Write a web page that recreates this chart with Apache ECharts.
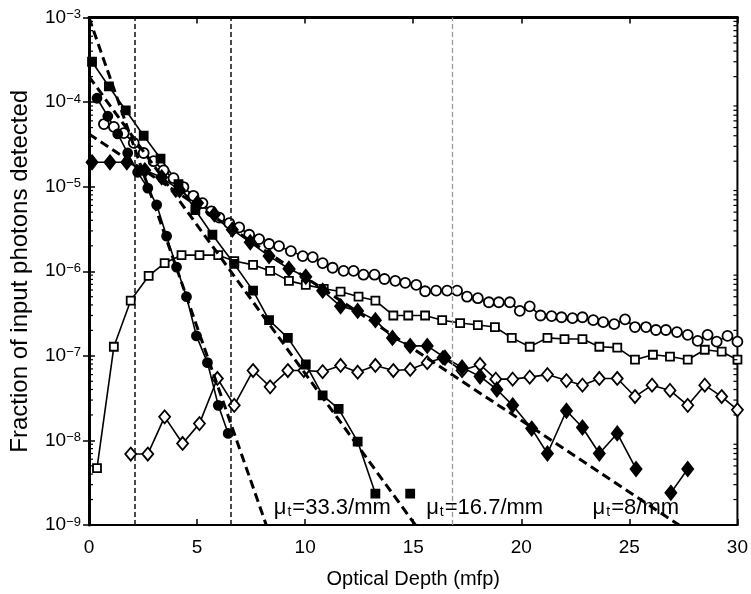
<!DOCTYPE html>
<html>
<head>
<meta charset="utf-8">
<script src="https://cdn.jsdelivr.net/npm/echarts@6/dist/echarts.min.js"></script>
<style>html,body{margin:0;padding:0;background:#fff}#c{width:751px;height:594px}</style>
</head>
<body>
<div id="c"></div>
<script>
// ---------- data ----------
const xTicks = [0, 5, 10, 15, 20, 25, 30];
const yExpTicks = [-9, -8, -7, -6, -5, -4, -3];
const minorMantissas = [2, 3, 4, 5, 6, 7, 8, 9];

// open circles
const circlesX = [0.69,1.15,1.61,2.07,2.53,2.99,3.45,3.91,4.37,4.83,5.25,5.66,6.03,6.49,6.95,7.41,7.87,8.33,8.79,9.34,9.89,10.35,10.81,11.27,11.78,12.24,12.70,13.21,13.67,14.17,14.63,15.14,15.55,16.06,16.57,17.03,17.49,17.99,18.50,18.96,19.47,19.93,20.39,20.89,21.40,21.86,22.37,22.83,23.33,23.79,24.30,24.80,25.26,25.77,26.23,26.69,27.20,27.70,28.16,28.62,29.04,29.54,30.0];
const circlesY = [5.5e-5,5.1e-5,4.3e-5,3.3e-5,2.5e-5,2.0e-5,1.56e-5,1.26e-5,9.9e-6,7.8e-6,6.4e-6,5.1e-6,4.3e-6,3.7e-6,3.3e-6,2.7e-6,2.4e-6,2.1e-6,1.98e-6,1.73e-6,1.51e-6,1.47e-6,1.25e-6,1.10e-6,1.01e-6,1.01e-6,9.1e-7,9.1e-7,8.1e-7,7.7e-7,7.3e-7,6.9e-7,5.8e-7,5.9e-7,5.9e-7,5.9e-7,5.0e-7,4.8e-7,4.3e-7,4.3e-7,4.3e-7,3.4e-7,3.85e-7,3.0e-7,2.95e-7,2.86e-7,2.79e-7,2.86e-7,2.64e-7,2.5e-7,2.37e-7,2.7e-7,2.19e-7,2.19e-7,2.02e-7,2.02e-7,1.91e-7,1.77e-7,1.50e-7,1.77e-7,1.47e-7,1.72e-7,1.47e-7];

// open squares
const squaresX = [0.37,1.15,1.93,2.76,3.50,4.28,5.11,5.98,6.72,7.59,8.38,9.25,10.03,10.86,11.64,12.47,13.25,14.08,14.77,15.55,16.34,17.17,17.99,18.78,19.56,20.39,21.21,22.0,22.83,23.61,24.44,25.26,26.09,26.88,27.70,28.49,29.27,30.0];
const squaresY = [4.7e-9,1.28e-7,4.5e-7,8.8e-7,1.25e-6,1.55e-6,1.55e-6,1.55e-6,1.32e-6,1.19e-6,1.01e-6,7.7e-7,6.9e-7,6.2e-7,5.75e-7,5.0e-7,4.5e-7,3.0e-7,3.0e-7,3.0e-7,2.64e-7,2.44e-7,2.31e-7,2.19e-7,1.63e-7,1.28e-7,1.63e-7,1.58e-7,1.58e-7,1.28e-7,1.25e-7,9.0e-8,1.03e-7,9.8e-8,9.0e-8,1.18e-7,1.12e-7,9.0e-8];

// open diamonds
const diamondsX = [1.93,2.72,3.50,4.33,5.11,5.94,6.72,7.59,8.38,9.20,9.94,10.81,11.64,12.43,13.25,14.08,14.86,15.65,16.38,17.26,18.09,18.82,19.60,20.39,21.21,22.09,22.83,23.61,24.44,25.26,26.05,26.88,27.70,28.49,29.27,30.0];
const diamondsY = [6.9e-9,6.9e-9,1.9e-8,9.2e-9,1.58e-8,5.4e-8,2.6e-8,6.7e-8,4.3e-8,6.7e-8,6.7e-8,6.5e-8,7.7e-8,6.4e-8,7.7e-8,6.7e-8,6.9e-8,8.3e-8,9.5e-8,6.7e-8,7.9e-8,5.3e-8,5.3e-8,5.6e-8,6.0e-8,5.1e-8,4.5e-8,5.4e-8,5.4e-8,3.3e-8,4.5e-8,3.9e-8,2.6e-8,4.5e-8,3.3e-8,2.3e-8];

// filled diamonds ('-' = gap)
const fDiamondsX = [0.14,0.97,1.75,2.58,3.36,4.19,5.02,5.80,6.63,7.46,8.33,9.25,10.03,10.81,11.64,12.43,13.25,14.04,14.86,15.65,16.47,17.26,18.09,18.87,19.60,20.48,21.21,22.09,22.83,23.61,24.44,25.31,26.1,26.92,27.70];
const fDiamondsY = [1.94e-5,1.94e-5,1.94e-5,1.56e-5,1.29e-5,9.1e-6,6.4e-6,4.7e-6,3.1e-6,2.2e-6,1.51e-6,1.07e-6,8.6e-7,5.9e-7,3.85e-7,3.4e-7,2.64e-7,1.63e-7,1.31e-7,1.31e-7,9.5e-8,7.3e-8,5.7e-8,4.0e-8,2.6e-8,1.38e-8,7.0e-9,2.24e-8,1.42e-8,7.0e-9,1.21e-8,4.6e-9,'-',2.4e-9,4.6e-9];

// filled squares
const fSquaresX = [0.14,0.92,1.70,2.53,3.31,4.14,4.92,5.71,6.72,7.59,8.33,9.20,10.03,10.81,11.55,12.43,13.25,14.0,14.86];
const fSquaresY = [3.0e-4,1.53e-4,8.0e-5,4.0e-5,2.15e-5,1.07e-5,5.3e-6,2.7e-6,1.22e-6,5.9e-7,2.64e-7,1.63e-7,7.9e-8,3.4e-8,2.36e-8,9.7e-9,2.35e-9,'-',2.35e-9];

// filled circles
const fCirclesX = [0.37,0.87,1.33,1.79,2.25,2.72,3.13,3.59,4.05,4.51,4.97,5.48,5.98,6.44];
const fCirclesY = [1.11e-4,6.8e-5,4.2e-5,2.5e-5,1.48e-5,9.6e-6,6.1e-6,2.6e-6,1.12e-6,5.0e-7,1.72e-7,8.3e-8,2.6e-8,1.21e-8];

// dashed exponential fits
const fit33X = [0, 8.2],  fit33Y = [1e-3, 1e-9];
const fit16X = [0, 15.1], fit16Y = [2e-4, 1e-9];
const fit8X  = [0, 27.3], fit8Y  = [4.2e-5, 1e-9];

// vertical reference lines
const vLinesBlack = [2.12, 6.58];
const vLinesGrey = [16.8];

// annotations
const annotX = [8.55, 15.6, 23.3];
const annotY = [1.6e-9, 1.6e-9, 1.6e-9];
const annotText = ['=33.3/mm', '=16.7/mm', '=8/mm'];

// ---------- build ----------
const zip = (xs, ys) => xs.map((x, i) => [x, ys[i]]);
const minorValues = [];
yExpTicks.slice(0, -1).forEach(e => minorMantissas.forEach(m => minorValues.push([0, m * Math.pow(10, e)])));

const FONT = 'Liberation Sans, Arial, Helvetica, sans-serif';
const black = '#000';

function dataSeries(name, xs, ys, symbol, size, filled) {
  return {
    name, type: 'line', data: zip(xs, ys), symbol, symbolSize: size,
    showAllSymbol: true, connectNulls: false, clip: false,
    lineStyle: { color: black, width: 1.6 },
    itemStyle: { color: filled ? black : '#fff', borderColor: black, borderWidth: 1.8 },
    emphasis: { disabled: true }, z: 3
  };
}
function fitSeries(xs, ys) {
  return {
    type: 'line', data: zip(xs, ys), symbol: 'none',
    lineStyle: { color: black, width: 3, type: [9, 5] },
    emphasis: { disabled: true }, z: 4
  };
}

const option = {
  animation: false,
  backgroundColor: '#fff',
  textStyle: { fontFamily: FONT },
  grid: { left: 87, right: 12, top: 10, bottom: 69, show: true, borderColor: black, borderWidth: 2, backgroundColor: 'transparent' },
  xAxis: [{
    type: 'value', min: 0, max: 30, interval: 5, position: 'bottom',
    axisLine: { show: true, lineStyle: { color: black, width: 2 } },
    axisTick: { show: true, inside: true, length: 6, lineStyle: { color: black, width: 1.5 } },
    axisLabel: { color: black, fontSize: 19, margin: 13, fontFamily: FONT },
    splitLine: { show: false },
    name: 'Optical Depth (mfp)', nameLocation: 'middle', nameGap: 44,
    nameTextStyle: { color: black, fontSize: 20, fontFamily: FONT }
  }, {
    type: 'value', min: 0, max: 30, interval: 5, position: 'top',
    axisLine: { show: true, lineStyle: { color: black, width: 3 } },
    axisTick: { show: true, inside: true, length: 6, lineStyle: { color: black, width: 1.5 } },
    axisLabel: { show: false }, splitLine: { show: false }
  }],
  yAxis: [{
    type: 'log', logBase: 10, min: 1e-9, max: 1e-3, position: 'left',
    axisLine: { show: true, lineStyle: { color: black, width: 3 } },
    axisTick: { show: true, inside: true, length: 6, lineStyle: { color: black, width: 1.5 } },
    axisLabel: {
      color: black, margin: 8, fontFamily: FONT,
      formatter: v => '{b|10}{s|\u2212' + Math.abs(Math.round(Math.log10(v))) + '}',
      rich: {
        b: { fontSize: 19, lineHeight: 19, padding: [8, 0, 0, 0], verticalAlign: 'bottom', color: black, fontFamily: FONT },
        s: { fontSize: 13, lineHeight: 13, verticalAlign: 'top', color: black, fontFamily: FONT }
      }
    },
    splitLine: { show: false },
    name: 'Fraction of input photons detected', nameLocation: 'middle', nameGap: 57, nameRotate: 90,
    nameTextStyle: { color: black, fontSize: 24, fontFamily: FONT }
  }, {
    type: 'log', logBase: 10, min: 1e-9, max: 1e-3, position: 'right',
    axisLine: { show: true, lineStyle: { color: black, width: 2 } },
    axisTick: { show: true, inside: true, length: 6, lineStyle: { color: black, width: 1.5 } },
    axisLabel: { show: false }, splitLine: { show: false }
  }],
  series: [
    {
      type: 'custom', data: minorValues, clip: false, silent: true, z: 5,
      renderItem: (params, api) => {
        const v = api.value(1);
        const l = api.coord([0, v]);
        const r = api.coord([30, v]);
        return { type: 'group', children: [
          { type: 'line', shape: { x1: l[0], y1: l[1], x2: l[0] + 4, y2: l[1] }, style: { stroke: black, lineWidth: 1.2 } },
          { type: 'line', shape: { x1: r[0] - 4, y1: r[1], x2: r[0], y2: r[1] }, style: { stroke: black, lineWidth: 1.2 } }
        ] };
      }
    },
    {
      type: 'line', data: [], symbol: 'none',
      markLine: {
        silent: true, symbol: ['none', 'none'], label: { show: false },
        data: vLinesBlack.map(x => ({ xAxis: x, lineStyle: { color: '#111', width: 1.5, type: [5, 3] } }))
              .concat(vLinesGrey.map(x => ({ xAxis: x, lineStyle: { color: '#999', width: 1.3, type: [5, 3] } })))
      }
    },
    dataSeries('circles', circlesX, circlesY, 'circle', 10, false),
    dataSeries('squares', squaresX, squaresY, 'rect', 8, false),
    dataSeries('diamonds', diamondsX, diamondsY, 'diamond', [11, 13], false),
    dataSeries('fdiamonds', fDiamondsX, fDiamondsY, 'diamond', [11, 14], true),
    dataSeries('fsquares', fSquaresX, fSquaresY, 'rect', 8, true),
    dataSeries('fcircles', fCirclesX, fCirclesY, 'circle', 9, true),
    fitSeries(fit33X, fit33Y),
    fitSeries(fit16X, fit16Y),
    fitSeries(fit8X, fit8Y),
    {
      type: 'scatter', data: zip(annotX, annotY), symbolSize: 0, clip: false, z: 6,
      itemStyle: { opacity: 1, color: black },
      emphasis: { disabled: true },
      label: {
        show: true, position: 'right', distance: 0, color: black, opacity: 1,
        formatter: p => '{mu|\u03bc}{t|t}{eq|' + annotText[p.dataIndex] + '}',
        rich: {
          mu: { fontSize: 22, lineHeight: 22, verticalAlign: 'top', color: black, fontFamily: FONT },
          t: { fontSize: 14, lineHeight: 14, padding: [13, 1, 0, 1], verticalAlign: 'bottom', color: black, fontFamily: FONT },
          eq: { fontSize: 22, lineHeight: 22, verticalAlign: 'top', color: black, fontFamily: FONT }
        }
      }
    }
  ]
};

const chart = echarts.init(document.getElementById('c'), null, { renderer: 'canvas' });
chart.setOption(option);
</script>
</body>
</html>
